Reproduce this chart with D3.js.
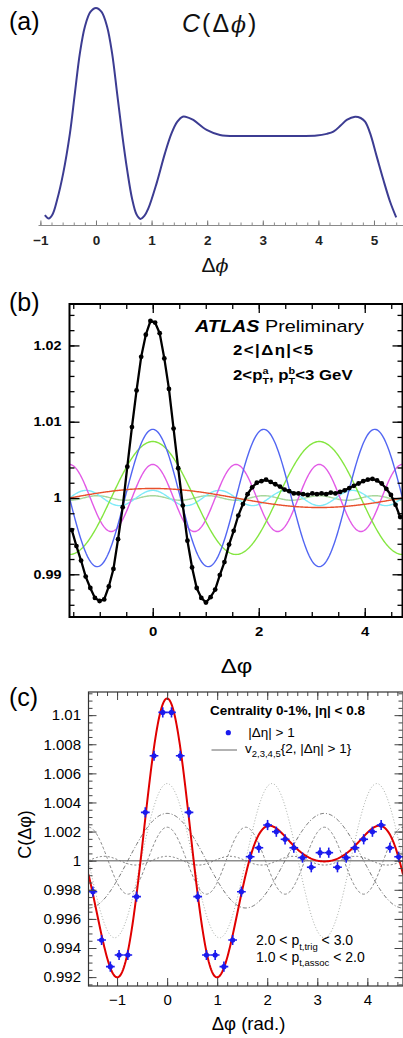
<!DOCTYPE html>
<html>
<head>
<meta charset="utf-8">
<script src="https://d3js.org/d3.v7.min.js"></script>
<style>
  body { margin: 0; background: #fff; }
  svg { display: block; }
  text { font-family: "Liberation Sans", Arial, sans-serif; }
</style>
</head>
<body>
<svg id="chart" width="403" height="1038"></svg>
<script>
// ---- (a) sketch of C(dphi), arbitrary height units ----
var aPhi = [-0.92,-0.85,-0.78,-0.70,-0.59,-0.47,-0.38,-0.29,-0.20,-0.10,0,0.10,0.20,0.29,0.38,0.47,0.56,0.65,0.73,0.80,
            0.87,0.94,1.09,1.24,1.36,1.46,1.56,1.66,1.75,1.99,2.23,2.59,3.00,3.31,3.70,3.97,4.15,4.27,4.40,4.51,
            4.66,4.76,4.84,4.93,5.05,5.17,5.29,5.40];
var aVal = [4.5,3.0,5.0,11.5,23.8,42.0,60.7,79.1,91.4,98.2,100,98.2,91.4,79.1,60.7,42.0,25.5,12.0,4.8,2.8,
            4.2,7.5,19.2,33.0,42.3,47.5,49.9,49.5,48.4,43.8,41.5,41.0,41.0,41.0,41.0,41.2,42.0,43.0,45.8,48.4,
            49.9,49.3,47.6,42.3,31.5,20.7,10.7,3.5];
var aTicks = [-1, 0, 1, 2, 3, 4, 5];

// ---- (b) ATLAS, 72 bins over [-pi/2, 3pi/2] ----
var bC = [0.9958,0.9937,0.9918,0.9897,0.9882,0.9869,0.9865,0.9867,0.9884,0.9907,0.9946,0.9988,1.0041,1.0093,1.0141,1.0185,1.0214,1.0232,
          1.0230,1.0216,1.0183,1.0143,1.0091,1.0039,0.9990,0.9944,0.9909,0.9882,0.9869,0.9863,0.9870,0.9880,0.9899,0.9916,0.9939,0.9957,
          0.9977,0.9992,1.0005,1.0014,1.0020,1.0022,1.0024,1.0021,1.0018,1.0015,1.0011,1.0009,1.0006,1.0006,1.0005,1.0004,1.0006,1.0005,
          1.0006,1.0005,1.0007,1.0006,1.0008,1.0010,1.0013,1.0016,1.0019,1.0022,1.0024,1.0025,1.0023,1.0019,1.0012,1.0004,0.9991,0.9975];
var bOrder = [6, 5, 4, 2, 3, 1];
var bAmp   = [0.0003, 0.0010, 0.0044, 0.0074, 0.0090, 0.00125];
var bXTicks = [0, 2, 4];
var bYTicks = [0.99, 1, 1.01, 1.02];

// ---- (c) ALICE, 36 bins over [-pi/2, 3pi/2] ----
var cC = [0.99787,0.99455,0.99272,0.99352,0.99352,0.99753,1.00332,1.00721,1.01019,1.01019,1.00721,1.00332,
          0.99753,0.99352,0.99352,0.99272,0.99455,0.99787,1.00027,1.00089,1.00245,1.00199,1.00147,1.00089,
          1.00021,0.99955,1.00055,1.00055,0.99955,1.00021,1.00089,1.00147,1.00199,1.00245,1.00089,1.00027];
var cErr = [0.00035,0.00035,0.00035,0.00035,0.00035,0.00035,0.00035,0.00035,0.00035,0.00035,0.00035,0.00035,
            0.00035,0.00035,0.00035,0.00035,0.00035,0.00035,0.00035,0.00035,0.00035,0.00035,0.00035,0.00035,
            0.00035,0.00035,0.00035,0.00035,0.00035,0.00035,0.00035,0.00035,0.00035,0.00035,0.00035,0.00035];
var cOrder = [2, 3, 4, 5];
var cAmp   = [0.00325, 0.0053, 0.0023, 0.0003];
var cXTicks = [-1, 0, 1, 2, 3, 4];
var cYTicks = [0.992, 0.994, 0.996, 0.998, 1, 1.002, 1.004, 1.006, 1.008, 1.01];

var PI = Math.PI;
var svg = d3.select("#chart");

function binCentres(n) {
  return d3.range(n).map(function(k){ return -PI/2 + (k + 0.5) * 2*PI/n; });
}
var fine = d3.range(401).map(function(i){ return -PI/2 + i * 2*PI/400; });

function cleanAxis(g) {
  g.select(".domain").remove();
  g.attr("font-family", null).attr("font-size", null);
}

// =================== (a) ===================
var xa = d3.scaleLinear().domain([-1.043, 5.522]).range([38, 403]);
var ya = d3.scaleLinear().domain([0, 100]).range([225, 8]);
var ga = svg.append("g");

ga.append("g").attr("transform", "translate(0,225)")
  .call(d3.axisBottom(xa).tickValues(d3.range(-5, 28).map(function(i){ return i/5; }))
        .tickSize(-2.5).tickSizeOuter(0).tickFormat(""))
  .call(function(g){ g.selectAll("line").attr("stroke", "#8a8a8a"); g.select(".domain").attr("stroke", "#8a8a8a"); });
ga.append("g").attr("transform", "translate(0,225)")
  .call(d3.axisBottom(xa).tickValues(aTicks).tickSize(-4.5).tickSizeOuter(0).tickPadding(10.5)
        .tickFormat(function(d){ return d < 0 ? "\u2212" + (-d) : d; }))
  .call(cleanAxis)
  .call(function(g){
    g.selectAll("line").attr("stroke", "#777");
    g.selectAll("text").attr("font-family", "'Liberation Serif', 'Times New Roman', serif")
      .attr("font-size", 13.5).attr("font-weight", "bold").attr("fill", "#222");
  });

ga.append("path")
  .datum(aPhi.map(function(p, i){ return [p, aVal[i]]; }))
  .attr("fill", "none").attr("stroke", "#3c3c92").attr("stroke-width", 2)
  .attr("d", d3.line().x(function(d){ return xa(d[0]); }).y(function(d){ return ya(d[1]); })
          .curve(d3.curveCatmullRom.alpha(0.5)));

var serif = "'Liberation Serif', 'Times New Roman', serif";
var phiFont = "'DejaVu Serif', serif";
var ta = ga.append("text").attr("x", 182).attr("y", 32).attr("font-family", serif)
  .attr("font-size", 25).attr("letter-spacing", 2).attr("fill", "#111");
ta.append("tspan").attr("font-style", "italic").text("C");
ta.append("tspan").text("(\u0394");
ta.append("tspan").attr("font-family", phiFont).attr("font-size", 22).attr("font-style", "italic").text("\u03d5");
ta.append("tspan").text(")");

var la = ga.append("text").attr("x", 215).attr("y", 272).attr("text-anchor", "middle")
  .attr("font-family", serif).attr("font-size", 21).attr("fill", "#111");
la.append("tspan").text("\u0394");
la.append("tspan").attr("font-family", phiFont).attr("font-size", 19).attr("font-style", "italic").text("\u03d5");

svg.append("text").attr("x", 9).attr("y", 30).attr("font-size", 25).text("(a)");

// =================== (b) ===================
var xb = d3.scaleLinear().domain([-PI/2, 3*PI/2]).range([69.5, 402.5]);
var yb = d3.scaleLinear().domain([0.9844, 1.02543]).range([617, 304]);
var gb = svg.append("g");

gb.append("clipPath").attr("id", "clipB").append("rect")
  .attr("x", 69.5).attr("y", 304).attr("width", 333).attr("height", 313);

var bColor = { 1: "#e8502c", 2: "#84e640", 3: "#5266f2", 4: "#e25ae6", 5: "#7eeaf8", 6: "#a6d69a" };
var plotB = gb.append("g").attr("clip-path", "url(#clipB)");
bOrder.forEach(function(n, i){
  plotB.append("path")
    .datum(fine)
    .attr("fill", "none").attr("stroke", bColor[n]).attr("stroke-width", 1.4)
    .attr("d", d3.line().x(function(p){ return xb(p); })
            .y(function(p){ return yb(1 + bAmp[i] * Math.cos(n * p)); }));
});

var bPts = binCentres(bC.length).map(function(p, i){ return [p, bC[i]]; });
plotB.append("path").datum(bPts)
  .attr("fill", "none").attr("stroke", "#000").attr("stroke-width", 2.3)
  .attr("d", d3.line().x(function(d){ return xb(d[0]); }).y(function(d){ return yb(d[1]); }));
plotB.selectAll("circle.b").data(bPts).enter().append("circle")
  .attr("cx", function(d){ return xb(d[0]); }).attr("cy", function(d){ return yb(d[1]); })
  .attr("r", 2.4).attr("fill", "#000");

var bMinorX = d3.range(-3, 10).map(function(i){ return i * 0.5; });
var bMinorY = d3.range(0, 20).map(function(i){ return 0.986 + i * 0.002; });
function tickStyle(g){ g.selectAll("line").attr("stroke", "#000").attr("stroke-width", 1.3); }

gb.append("g").attr("transform", "translate(0,617)")
  .call(d3.axisBottom(xb).tickValues(bMinorX).tickSize(-5).tickFormat("")).call(cleanAxis).call(tickStyle);
gb.append("g").attr("transform", "translate(0,617)")
  .call(d3.axisBottom(xb).tickValues(bXTicks).tickSize(-9).tickPadding(10).tickFormat(d3.format("d")))
  .call(cleanAxis).call(tickStyle)
  .call(function(g){
    g.selectAll("text").attr("font-size", 13).attr("font-weight", "bold").attr("fill", "#000")
      .attr("transform", "scale(1.15,1)");
  });
gb.append("g").attr("transform", "translate(0,304)")
  .call(d3.axisTop(xb).tickValues(bMinorX).tickSize(-5).tickFormat("")).call(cleanAxis).call(tickStyle);
gb.append("g").attr("transform", "translate(0,304)")
  .call(d3.axisTop(xb).tickValues(bXTicks).tickSize(-9).tickFormat("")).call(cleanAxis).call(tickStyle);

gb.append("g").attr("transform", "translate(69.5,0)")
  .call(d3.axisLeft(yb).tickValues(bMinorY).tickSize(-5).tickFormat("")).call(cleanAxis).call(tickStyle);
gb.append("g").attr("transform", "translate(69.5,0)")
  .call(d3.axisLeft(yb).tickValues(bYTicks).tickSize(-10).tickPadding(7)
        .tickFormat(function(d){ return String(+d.toFixed(2)); }))
  .call(cleanAxis).call(tickStyle)
  .call(function(g){
    g.selectAll("text").attr("font-size", 12.5).attr("font-weight", "bold").attr("fill", "#000")
      .attr("transform", "scale(1.15,1)");
  });
gb.append("g").attr("transform", "translate(402.5,0)")
  .call(d3.axisRight(yb).tickValues(bMinorY).tickSize(-5).tickFormat("")).call(cleanAxis).call(tickStyle);
gb.append("g").attr("transform", "translate(402.5,0)")
  .call(d3.axisRight(yb).tickValues(bYTicks).tickSize(-10).tickFormat("")).call(cleanAxis).call(tickStyle);

gb.append("rect").attr("x", 69.5).attr("y", 304).attr("width", 333).attr("height", 313)
  .attr("fill", "none").attr("stroke", "#000").attr("stroke-width", 2);

function stretched(parent, x, y, sx) {
  return parent.append("g").attr("transform", "translate(" + x + "," + y + ") scale(" + sx + ",1)")
    .append("text");
}
var atl = stretched(gb, 195, 332, 1.2).attr("font-size", 16.5).attr("fill", "#000");
atl.append("tspan").attr("font-weight", "bold").attr("font-style", "italic").text("ATLAS");
atl.append("tspan").text(" Preliminary");

stretched(gb, 233, 355, 1.2).attr("font-size", 14).attr("font-weight", "bold")
  .attr("letter-spacing", 1.2).text("2<|\u0394\u03b7|<5");

var pt = stretched(gb, 233, 380, 1.2).attr("font-size", 14).attr("font-weight", "bold");
pt.append("tspan").text("2<p");
pt.append("tspan").attr("font-size", 9).attr("dy", -6).text("a");
pt.append("tspan").attr("font-size", 9).attr("dx", -5).attr("dy", 10).text("T");
pt.append("tspan").attr("dy", -4).text(", p");
pt.append("tspan").attr("font-size", 9).attr("dy", -6).text("b");
pt.append("tspan").attr("font-size", 9).attr("dx", -5.5).attr("dy", 10).text("T");
pt.append("tspan").attr("dy", -4).text("<3 GeV");

stretched(gb, 236.5, 673, 1.2).attr("font-size", 20).attr("text-anchor", "middle").text("\u0394\u03c6");

svg.append("text").attr("x", 9).attr("y", 311).attr("font-size", 25).text("(b)");

// =================== (c) ===================
var xc = d3.scaleLinear().domain([-PI/2, 3*PI/2]).range([88.5, 403]);
var yc = d3.scaleLinear().domain([0.99139, 1.01159]).range([986, 692]);
var gc = svg.append("g");

gc.append("clipPath").attr("id", "clipC").append("rect")
  .attr("x", 88.5).attr("y", 692).attr("width", 314.5).attr("height", 294);
var plotC = gc.append("g").attr("clip-path", "url(#clipC)");

plotC.append("line").attr("x1", 88.5).attr("x2", 403).attr("y1", yc(1)).attr("y2", yc(1))
  .attr("stroke", "#8c8c8c").attr("stroke-width", 1.6);

var cDash = { 2: "4,2,1,2", 3: "1,2", 4: "3,2", 5: "2,2" };
var cGrey = { 2: "#6e6e6e", 3: "#a9aea9", 4: "#888", 5: "#777" };
cOrder.forEach(function(n, i){
  plotC.append("path").datum(fine)
    .attr("fill", "none").attr("stroke", cGrey[n]).attr("stroke-width", 1)
    .attr("stroke-dasharray", cDash[n])
    .attr("d", d3.line().x(function(p){ return xc(p); })
            .y(function(p){ return yc(1 + cAmp[i] * Math.cos(n * p)); }));
});

// fit = sum of the harmonics
plotC.append("path").datum(fine)
  .attr("fill", "none").attr("stroke", "#e00000").attr("stroke-width", 2)
  .attr("d", d3.line().x(function(p){ return xc(p); })
          .y(function(p){ return yc(1 + d3.sum(cOrder, function(n, i){ return cAmp[i] * Math.cos(n * p); })); }));

var halfBin = PI / cC.length;
var cPts = binCentres(cC.length).map(function(p, i){ return { p: p, c: cC[i], e: cErr[i] }; });
var pg = plotC.selectAll("g.pt").data(cPts).enter().append("g");
pg.append("line")
  .attr("x1", function(d){ return xc(d.p - halfBin); }).attr("x2", function(d){ return xc(d.p + halfBin); })
  .attr("y1", function(d){ return yc(d.c); }).attr("y2", function(d){ return yc(d.c); })
  .attr("stroke", "#1a1aee").attr("stroke-width", 1.6);
pg.append("line")
  .attr("x1", function(d){ return xc(d.p); }).attr("x2", function(d){ return xc(d.p); })
  .attr("y1", function(d){ return yc(d.c - d.e); }).attr("y2", function(d){ return yc(d.c + d.e); })
  .attr("stroke", "#1a1aee").attr("stroke-width", 1.6);
pg.append("circle").attr("cx", function(d){ return xc(d.p); }).attr("cy", function(d){ return yc(d.c); })
  .attr("r", 2.6).attr("fill", "#1a1aee");

var cMinorX = d3.range(-7, 24).map(function(i){ return i * 0.2; });
var cMinorY = d3.range(0, 41).map(function(i){ return 0.9915 + i * 0.0005; });
function tickStyleC(g){ g.selectAll("line").attr("stroke", "#444").attr("stroke-width", 1); }

gc.append("g").attr("transform", "translate(0,986)")
  .call(d3.axisBottom(xc).tickValues(cMinorX).tickSize(-4).tickFormat("")).call(cleanAxis).call(tickStyleC);
gc.append("g").attr("transform", "translate(0,986)")
  .call(d3.axisBottom(xc).tickValues(cXTicks).tickSize(-8).tickPadding(8.5).tickFormat(d3.format("d")))
  .call(cleanAxis).call(tickStyleC)
  .call(function(g){ g.selectAll("text").attr("font-size", 15).attr("fill", "#000"); });
gc.append("g").attr("transform", "translate(0,692)")
  .call(d3.axisTop(xc).tickValues(cMinorX).tickSize(-4).tickFormat("")).call(cleanAxis).call(tickStyleC);
gc.append("g").attr("transform", "translate(0,692)")
  .call(d3.axisTop(xc).tickValues(cXTicks).tickSize(-8).tickFormat("")).call(cleanAxis).call(tickStyleC);

gc.append("g").attr("transform", "translate(88.5,0)")
  .call(d3.axisLeft(yc).tickValues(cMinorY).tickSize(-4).tickFormat("")).call(cleanAxis).call(tickStyleC);
gc.append("g").attr("transform", "translate(88.5,0)")
  .call(d3.axisLeft(yc).tickValues(cYTicks).tickSize(-8).tickPadding(7.5)
        .tickFormat(function(d){ return String(+d.toFixed(3)); }))
  .call(cleanAxis).call(tickStyleC)
  .call(function(g){ g.selectAll("text").attr("font-size", 15).attr("fill", "#000"); });
gc.append("g").attr("transform", "translate(402.5,0)")
  .call(d3.axisRight(yc).tickValues(cMinorY).tickSize(-4).tickFormat("")).call(cleanAxis).call(tickStyleC);
gc.append("g").attr("transform", "translate(402.5,0)")
  .call(d3.axisRight(yc).tickValues(cYTicks).tickSize(-8).tickFormat("")).call(cleanAxis).call(tickStyleC);

gc.append("rect").attr("x", 88.5).attr("y", 692).attr("width", 314.5).attr("height", 294)
  .attr("fill", "none").attr("stroke", "#333").attr("stroke-width", 1.2);

gc.append("text").attr("transform", "translate(31,834.5) rotate(-90)").attr("text-anchor", "middle")
  .attr("font-size", 18).text("C(\u0394\u03c6)");
gc.append("text").attr("x", 248.5).attr("y", 1030).attr("text-anchor", "middle")
  .attr("font-size", 18.5).text("\u0394\u03c6 (rad.)");

// legend
gc.append("text").attr("x", 210).attr("y", 715).attr("font-size", 13.5).attr("font-weight", "bold")
  .text("Centrality 0-1%, |\u03b7| < 0.8");
gc.append("circle").attr("cx", 228.3).attr("cy", 732.7).attr("r", 2.6).attr("fill", "#1a1aee");
gc.append("text").attr("x", 248.3).attr("y", 737).attr("font-size", 13.5).text("|\u0394\u03b7| > 1");
gc.append("line").attr("x1", 211.5).attr("x2", 237).attr("y1", 750).attr("y2", 750)
  .attr("stroke", "#666").attr("stroke-width", 1);
var lv = gc.append("text").attr("x", 245).attr("y", 753).attr("font-size", 13.5);
lv.append("tspan").text("v");
lv.append("tspan").attr("font-size", 9.5).attr("dy", 3.5).text("2,3,4,5");
lv.append("tspan").attr("dy", -3.5).text("{2, |\u0394\u03b7| > 1}");

var p1 = gc.append("text").attr("x", 256).attr("y", 945).attr("font-size", 14);
p1.append("tspan").text("2.0 < p");
p1.append("tspan").attr("font-size", 9.5).attr("dy", 4.5).text("t,trig");
p1.append("tspan").attr("dy", -4.5).text(" < 3.0");
var p2 = gc.append("text").attr("x", 256).attr("y", 961.5).attr("font-size", 14);
p2.append("tspan").text("1.0 < p");
p2.append("tspan").attr("font-size", 9.5).attr("dy", 4.5).text("t,assoc");
p2.append("tspan").attr("dy", -4.5).text(" < 2.0");

svg.append("text").attr("x", 9).attr("y", 706).attr("font-size", 25).text("(c)");
</script>
</body>
</html>
